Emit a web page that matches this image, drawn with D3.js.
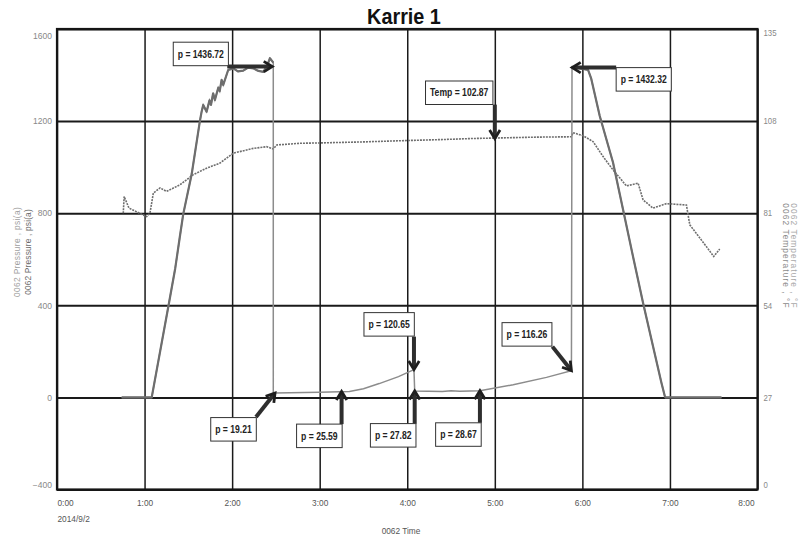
<!DOCTYPE html>
<html>
<head>
<meta charset="utf-8">
<script src="https://cdn.jsdelivr.net/npm/d3@7"></script>
<style>
  body { margin: 0; background: #fff; }
  text { font-family: "Liberation Sans", Arial, sans-serif; }
</style>
</head>
<body>
<div id="chart"></div>
<script>
// all times are minutes after 2014/9/2 0:00
var pressureRise = [
  [44.3, 0], [64.9, 0], [76.3, 395], [81, 560], [84, 690], [86.5, 796], [92.3, 970],
  [97.9, 1200], [99.1, 1241], [100.2, 1270], [102.5, 1241], [104.5, 1290], [105.5, 1270],
  [107.0, 1321], [108.2, 1292], [110.5, 1345], [111.5, 1330], [112.8, 1379], [113.9, 1357],
  [117.3, 1422], [120.8, 1429], [124, 1416], [127.6, 1419], [131, 1432], [134.5, 1429],
  [138, 1418], [141.4, 1414], [144, 1440], [145.9, 1473], [148.2, 1454]
];
var pressureLow = [
  [148.2, 19.5], [149.4, 19.2], [180, 22], [200.4, 25.6], [210, 38], [220.8, 60],
  [234, 90], [244.6, 120.65], [245.1, 27.8], [264, 26], [270, 29], [276, 27],
  [289.8, 28.7], [312.6, 55], [335.4, 87], [352.5, 116.3]
];
var pressureFall = [
  [352.9, 1436], [363.9, 1422], [366, 1386], [371.9, 1222], [381, 1020], [387.9, 815],
  [394.7, 612], [401.6, 410], [408.4, 222], [414.2, 63], [416.5, 5], [417, 0], [455.3, 0]
];
var temperature = [
  [45.4, 81.0], [46.0, 85.9], [49.3, 82.5], [61.4, 80.0], [63.7, 81.0], [66.0, 86.9],
  [70.6, 88.4], [75.1, 87.4], [84.2, 89.3], [93.4, 92.3], [102.5, 94.2], [111.7, 95.7],
  [120.8, 98.6], [134.5, 100.0], [143.6, 100.5], [148.2, 99.8], [150.6, 101.0],
  [166.4, 101.5], [180, 101.6], [210, 101.9], [239.4, 102.3], [264.6, 102.6],
  [285, 102.9], [328.6, 103.3], [352.5, 103.4], [353.6, 104.6], [360.5, 103.7],
  [367.3, 102.0], [374.2, 97.6], [381, 93.7], [390.2, 89.0], [398.2, 89.8], [401.6, 84.9],
  [408.4, 82.5], [417.6, 83.8], [431.3, 83.4], [433.6, 77.6], [445, 71.2], [450, 68.3],
  [454.1, 70.5]
];
var pressureTicks = [-400, 0, 400, 800, 1200, 1600];
var tempTicks = [0, 27, 54, 81, 108, 135];
var callouts = [
  { t: 147.5, v: 1436.72, on: "p", label: "p = 1436.72" },
  { t: 353, v: 1432.32, on: "p", label: "p = 1432.32" },
  { t: 300, v: 102.87, on: "T", label: "Temp = 102.87" },
  { t: 244.6, v: 120.65, on: "p", label: "p = 120.65" },
  { t: 352.5, v: 116.26, on: "p", label: "p = 116.26" },
  { t: 149.4, v: 19.21, on: "p", label: "p = 19.21" },
  { t: 195, v: 25.59, on: "p", label: "p = 25.59" },
  { t: 245.1, v: 27.82, on: "p", label: "p = 27.82" },
  { t: 289.8, v: 28.67, on: "p", label: "p = 28.67" }
];
// arrow start (sx, sy) and box corner (bx, by), relative to the arrow tip
var calloutOffsets = [
  [-45, 0, -99, -24.4], [44, 0, 44, 0], [0, -34, -69.3, -57.6], [0, -33, -50, -57],
  [-19, -24, -69.4, -48], [-19, 24, -64.3, 24.6], [0, 32.6, -45, 32.6],
  [0, 32.6, -44.3, 32.6], [0, 32, -44.3, 32]
];

var W = 809, H = 539;
var L = 57, R = 757.5, T = 29, B = 489.5;
var day = Date.UTC(2014, 8, 2);
function tm(m) { return new Date(day + m * 60000); }

// squeeze text to look like a narrow face
function squeeze(sel, f) {
  sel.each(function() {
    var w = this.getComputedTextLength();
    d3.select(this).attr("textLength", w * f).attr("lengthAdjust", "spacingAndGlyphs");
  });
}

var x = d3.scaleUtc().domain([tm(0), tm(480)]).range([L, R]);
var y = d3.scaleLinear().domain([-400, 1600]).range([B, T]);
var yT = d3.scaleLinear().domain([0, 135]).range([B, T]);

var svg = d3.select("#chart").append("svg")
    .attr("width", W)
    .attr("height", H);

// grid
var grid = svg.append("g").attr("class", "grid");
grid.append("g")
    .attr("transform", "translate(0," + B + ")")
    .call(d3.axisBottom(x).ticks(d3.utcHour.every(1)).tickSize(-(B - T)).tickFormat(""))
    .call(function(g) {
      g.select(".domain").remove();
      g.selectAll("line").attr("stroke", "#1a1a1a").attr("stroke-width", 1.5);
    });
grid.append("g")
    .attr("transform", "translate(" + L + ",0)")
    .call(d3.axisLeft(y).tickValues(pressureTicks).tickSize(-(R - L)).tickFormat(""))
    .call(function(g) {
      g.select(".domain").remove();
      g.selectAll("line").attr("stroke", "#1a1a1a").attr("stroke-width", 2);
    });

// series
var line = d3.line()
    .x(function(d) { return x(tm(d[0])); })
    .y(function(d) { return y(d[1]); });
var tLine = d3.line()
    .x(function(d) { return x(tm(d[0])); })
    .y(function(d) { return yT(d[1]); });

svg.append("path")
    .attr("d", tLine(temperature))
    .attr("fill", "none")
    .attr("stroke", "#6e6e6e")
    .attr("stroke-width", 1.6)
    .attr("stroke-dasharray", "2,1");

svg.append("path")
    .attr("d", line(pressureRise.concat(pressureLow, pressureFall)))
    .attr("fill", "none")
    .attr("stroke", "#8c8c8c")
    .attr("stroke-width", 1.5);

[pressureRise, pressureFall].forEach(function(s) {
  svg.append("path")
      .attr("d", line(s))
      .attr("fill", "none")
      .attr("stroke", "#6e6e6e")
      .attr("stroke-width", 2.2)
      .attr("stroke-linejoin", "round");
});

// plot border
svg.append("rect")
    .attr("x", L).attr("y", T)
    .attr("width", R - L).attr("height", B - T)
    .attr("fill", "none")
    .attr("stroke", "#151515")
    .attr("stroke-width", 2.2);

// axes labels
var xAxis = svg.append("g")
    .attr("transform", "translate(0," + B + ")")
    .call(d3.axisBottom(x).ticks(d3.utcHour.every(1)).tickSize(0).tickPadding(11)
      .tickFormat(d3.utcFormat("%-H:%M")));
xAxis.select(".domain").remove();
xAxis.selectAll("text").attr("font-size", 8.3).attr("fill", "#555")
    .style("font-family", "'Liberation Sans', Arial");
xAxis.selectAll(".tick").filter(function(d, i) { return i === 0; })
    .select("text").attr("text-anchor", "start");
xAxis.selectAll(".tick").filter(function(d, i, n) { return i === n.length - 1; })
    .select("text").attr("text-anchor", "end").attr("dx", -3.5);

svg.append("text")
    .attr("x", L + 0.5).attr("y", 522)
    .attr("font-size", 8.3).attr("fill", "#555")
    .text("2014/9/2");

var yAxis = svg.append("g")
    .attr("transform", "translate(" + (L - 5) + ",0)")
    .call(d3.axisLeft(y).tickValues(pressureTicks).tickSize(0).tickPadding(0)
      .tickFormat(d3.format("d")));
yAxis.select(".domain").remove();
yAxis.selectAll("text").attr("font-size", 8.5).attr("fill", "#888")
    .style("font-family", "'Liberation Sans', Arial")
    .attr("dy", function(d) { return d === 1600 ? "1.1em" : d === -400 ? "-0.2em" : "0.32em"; });

var y2Axis = svg.append("g")
    .attr("transform", "translate(" + (R + 6) + ",0)")
    .call(d3.axisRight(yT).tickValues(tempTicks).tickSize(0).tickPadding(0)
      .tickFormat(d3.format("d")));
y2Axis.select(".domain").remove();
y2Axis.selectAll("text").attr("font-size", 8.5).attr("fill", "#888")
    .style("font-family", "'Liberation Sans', Arial")
    .attr("dy", function(d) { return d === 135 ? "0.8em" : d === 0 ? "-0.2em" : "0.32em"; })
    .call(squeeze, 0.92);

// titles
svg.append("text")
    .attr("x", 404).attr("y", 24)
    .attr("text-anchor", "middle")
    .attr("font-size", 22.5).attr("font-weight", "bold")
    .attr("fill", "#111")
    .text("Karrie 1")
    .call(squeeze, 0.88);

svg.append("text")
    .attr("x", 401).attr("y", 534)
    .attr("text-anchor", "middle")
    .attr("font-size", 8.3).attr("fill", "#555")
    .text("0062 Time");

[[17, "#a0a0a0", 0.35], [27.5, "#6a6a6a", 0.15]].forEach(function(o) {
  svg.append("text")
      .attr("transform", "translate(" + o[0] + ",252) rotate(-90)")
      .attr("text-anchor", "middle")
      .attr("dominant-baseline", "central")
      .attr("font-size", 8.4)
      .attr("letter-spacing", o[2])
      .attr("fill", o[1])
      .text("0062 Pressure , psi(a)");
});
[[786, "#8a8a8a", 1.05], [794, "#a8a8a8", 1.05]].forEach(function(o) {
  svg.append("text")
      .attr("transform", "translate(" + o[0] + ",256) rotate(90)")
      .attr("text-anchor", "middle")
      .attr("dominant-baseline", "central")
      .attr("font-size", 8.4)
      .attr("letter-spacing", o[2])
      .attr("fill", o[1])
      .text("0062 Temperature , \u00b0F");
});

// callouts
var cg = svg.append("g").attr("class", "callouts");
callouts.forEach(function(c, i) {
  var off = calloutOffsets[i];
  var tx = x(tm(c.t)), ty = c.on === "T" ? yT(c.v) : y(c.v);
  var sx = tx + off[0], sy = ty + off[1];
  var a = Math.atan2(ty - sy, tx - sx), hl = 10, spread = 0.55;

  cg.append("line")
      .attr("x1", sx).attr("y1", sy)
      .attr("x2", tx - 2 * Math.cos(a)).attr("y2", ty - 2 * Math.sin(a))
      .attr("stroke", "#2e2e2e")
      .attr("stroke-width", 4);
  cg.append("path")
      .attr("d", "M" + (tx - hl * Math.cos(a - spread)) + "," + (ty - hl * Math.sin(a - spread)) +
                 "L" + tx + "," + ty +
                 "L" + (tx - hl * Math.cos(a + spread)) + "," + (ty - hl * Math.sin(a + spread)))
      .attr("fill", "none")
      .attr("stroke", "#1e1e1e")
      .attr("stroke-width", 2.8);

  var bx = tx + off[2], by = ty + off[3];
  var box = cg.append("rect")
      .attr("x", bx).attr("y", by)
      .attr("height", 23.5)
      .attr("fill", "#fff")
      .attr("stroke", "#333")
      .attr("stroke-width", 1);
  var txt = cg.append("text")
      .attr("y", by + 15.5)
      .attr("font-size", 10)
      .attr("font-weight", "bold")
      .attr("fill", "#222")
      .text(c.label);
  var w = txt.node().getComputedTextLength() * 0.86;
  txt.attr("textLength", w).attr("lengthAdjust", "spacingAndGlyphs");
  box.attr("width", w + 9);
  txt.attr("x", bx + (w + 9) / 2).attr("text-anchor", "middle");
});
</script>
</body>
</html>
